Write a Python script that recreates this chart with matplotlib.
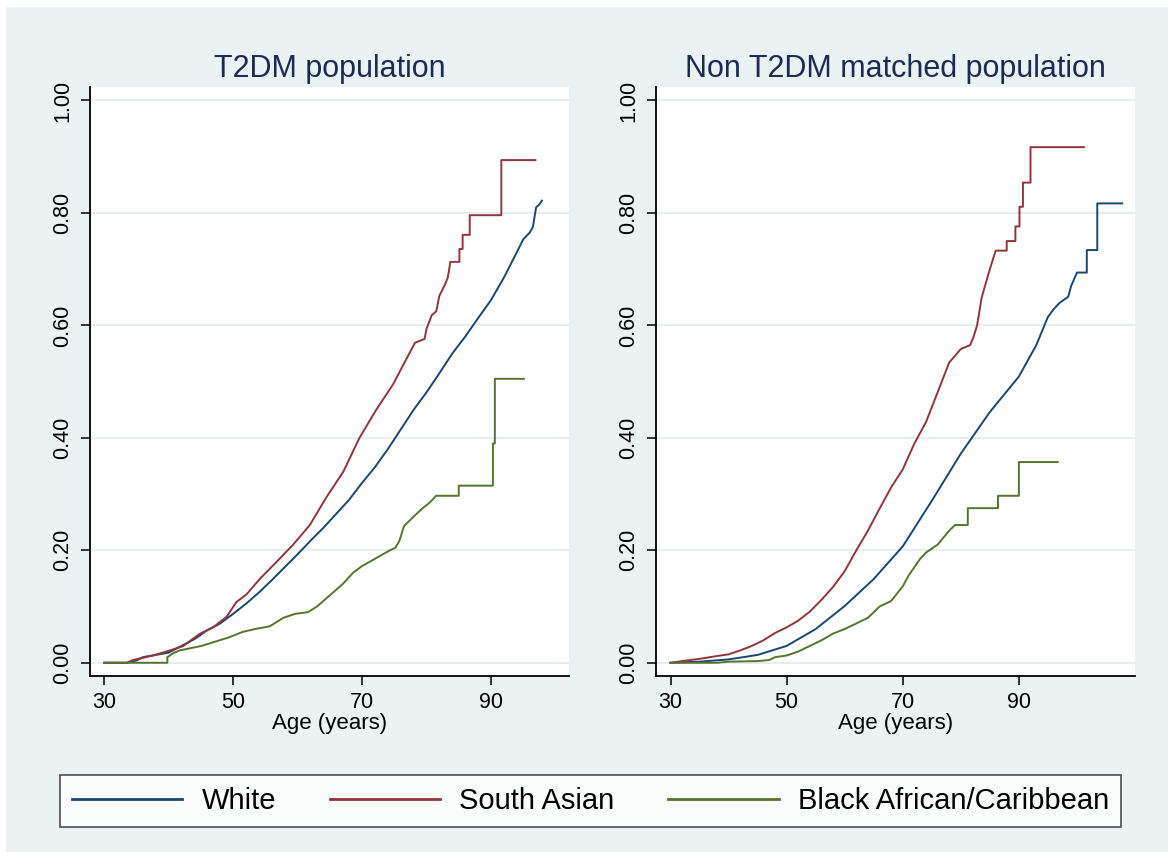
import matplotlib
matplotlib.use('Agg')
import matplotlib.pyplot as plt
from matplotlib.patches import Rectangle

plt.rcParams['font.family'] = ['Liberation Sans', 'DejaVu Sans']

# cumulative incidence by age, T2DM population
t2_white_age = [30, 33.5, 35, 36, 38, 40, 42, 44, 46, 48, 50, 52, 54, 56, 58, 60, 62, 64, 66, 68,
                70, 72, 74, 76, 78, 80, 82, 84, 86, 88, 90, 92, 94, 95, 96, 96.5, 97, 97.5, 97.9]
t2_white_val = [0, 0, 0.004, 0.010, 0.014, 0.018, 0.030, 0.042, 0.058, 0.070, 0.087, 0.105, 0.125,
                0.147, 0.170, 0.193, 0.217, 0.240, 0.265, 0.290, 0.320, 0.348, 0.380, 0.415, 0.450,
                0.481, 0.515, 0.550, 0.580, 0.613, 0.645, 0.685, 0.730, 0.753, 0.765, 0.775, 0.810,
                0.815, 0.822]

t2_sa_age = [30, 33.5, 34.5, 37.6, 40.2, 42.3, 43.8, 44.9, 46.9, 49.0, 50.5, 52.1, 54.2, 56.7, 59.3,
             61.9, 64.5, 67.1, 69.6, 72.2, 74.8, 76.4, 78.2, 79.7, 80.0, 80.8, 81.5, 82.0, 82.8, 83.3,
             83.7, 85.1, 85.1, 85.6, 85.6, 86.7, 86.7, 91.6, 91.6, 96.9]
t2_sa_val = [0, 0, 0.005, 0.013, 0.022, 0.030, 0.043, 0.052, 0.063, 0.082, 0.108, 0.122, 0.150,
             0.179, 0.210, 0.245, 0.295, 0.340, 0.400, 0.450, 0.495, 0.530, 0.569, 0.576, 0.594,
             0.618, 0.625, 0.653, 0.671, 0.685, 0.713, 0.713, 0.736, 0.736, 0.761, 0.761, 0.796,
             0.796, 0.894, 0.894]

t2_bac_age = [30, 39.8, 39.8, 40.7, 41.7, 43, 45.1, 46.5, 49.3, 51.5, 53.4, 55.7, 57.8, 59.6, 61.6,
              63, 65, 67, 68.6, 70, 72, 74, 75.2, 75.8, 76.5, 78, 79.3, 80.5, 81.5, 85, 85, 90.3,
              90.3, 90.6, 90.6, 95.1]
t2_bac_val = [0, 0, 0.010, 0.017, 0.022, 0.025, 0.030, 0.035, 0.045, 0.055, 0.060, 0.065, 0.080,
              0.087, 0.090, 0.100, 0.120, 0.140, 0.160, 0.172, 0.185, 0.198, 0.205, 0.217, 0.243,
              0.260, 0.274, 0.285, 0.297, 0.297, 0.315, 0.315, 0.390, 0.390, 0.505, 0.505]

# cumulative incidence by age, matched non-T2DM population
nt_white_age = [30, 35, 40, 45, 50, 55, 60, 65, 70, 75, 80, 85, 90, 93, 95, 96, 97, 98.5, 99, 100,
                101.7, 101.7, 103.5, 103.5, 107.8]
nt_white_val = [0, 0.002, 0.006, 0.014, 0.030, 0.060, 0.101, 0.149, 0.207, 0.288, 0.372, 0.446,
                0.509, 0.565, 0.615, 0.629, 0.640, 0.651, 0.670, 0.694, 0.694, 0.734, 0.734, 0.817,
                0.817]

nt_sa_age = [30, 32, 35, 38, 40, 42, 44, 46, 48, 50, 52, 54, 56, 58, 60, 62, 64, 66, 68, 70, 72, 74,
             76, 78, 80, 81.6, 82.2, 82.8, 83.6, 85, 86, 87.9, 87.9, 89.4, 89.4, 90.1, 90.1, 90.7,
             90.7, 92, 92, 101.2]
nt_sa_val = [0, 0.003, 0.007, 0.012, 0.015, 0.022, 0.030, 0.040, 0.053, 0.063, 0.075, 0.091, 0.112,
             0.135, 0.163, 0.200, 0.235, 0.274, 0.312, 0.344, 0.390, 0.428, 0.481, 0.534, 0.558,
             0.565, 0.580, 0.600, 0.650, 0.700, 0.733, 0.733, 0.750, 0.750, 0.776, 0.776, 0.811,
             0.811, 0.854, 0.854, 0.917, 0.917]

nt_bac_age = [30, 38, 40, 45, 47, 48, 50, 52, 54, 56, 58, 60, 62, 64, 66, 68, 70, 71, 72, 73, 74, 76,
              78, 79, 81.2, 81.2, 86.4, 86.4, 90, 90, 96.7]
nt_bac_val = [0, 0, 0.002, 0.003, 0.005, 0.010, 0.013, 0.020, 0.030, 0.040, 0.052, 0.060, 0.070,
              0.080, 0.100, 0.110, 0.136, 0.155, 0.170, 0.185, 0.196, 0.210, 0.235, 0.245, 0.245,
              0.275, 0.275, 0.297, 0.297, 0.357, 0.357]

groups = ['White', 'South Asian', 'Black African/Caribbean']
colors = ['#1A476F', '#90353B', '#55752F']
titles = ['T2DM population', 'Non T2DM matched population']
yticks = [0, 0.2, 0.4, 0.6, 0.8, 1.0]
xticks = [30, 50, 70, 90]

panels = [
    [(t2_white_age, t2_white_val), (t2_sa_age, t2_sa_val), (t2_bac_age, t2_bac_val)],
    [(nt_white_age, nt_white_val), (nt_sa_age, nt_sa_val), (nt_bac_age, nt_bac_val)],
]
xlims = [(27.8, 102.1), (27.5, 110.0)]

W, H = 1168, 852
fig = plt.figure(figsize=(W / 100, H / 100), dpi=100, facecolor='white')
bg = '#EAF2F3'
fig.patches.append(Rectangle((6 / W, 0), 1 - 6 / W, 1 - 7 / H, transform=fig.transFigure,
                             facecolor=bg, edgecolor='none', zorder=-10))

lefts = [90, 656]
for k in range(2):
    ax = fig.add_axes([lefts[k] / W, 1 - 676 / H, 479 / W, (676 - 87) / H])
    ax.set_facecolor('white')
    for (age, val), c, g in zip(panels[k], colors, groups):
        ax.plot(age, val, color=c, lw=1.4, label=g)
    ax.set_xlim(*xlims[k])
    ax.set_ylim(-0.0235, 1.024)
    ax.set_xticks(xticks)
    ax.set_yticks(yticks)
    ax.set_yticklabels(['%.2f' % v for v in yticks])
    ax.grid(axis='y', color='#E6EEF0', lw=1.5)
    ax.set_axisbelow(True)
    for s in ['top', 'right']:
        ax.spines[s].set_visible(False)
    for s in ['left', 'bottom']:
        ax.spines[s].set_linewidth(1.3)
        ax.spines[s].set_color('black')
    ax.tick_params(direction='out', length=6.5, width=1.1, labelsize=15.5)
    ax.tick_params(axis='x', pad=5)
    ax.tick_params(axis='y', pad=5.5)
    plt.setp(ax.get_yticklabels(), rotation=90, va='center')
    ax.set_xlabel('Age (years)', fontsize=16, labelpad=0)
    ax.set_title(titles[k], fontsize=22, color='#1C2B52', pad=7)

handles, labels = ax.get_legend_handles_labels()
leg = fig.legend(handles, labels, loc='center', mode='expand',
                 bbox_to_anchor=(60 / W, 1 - 829 / H, 1061 / W, 56 / H),
                 ncol=3, fontsize=21, frameon=True, fancybox=False, handlelength=3.8,
                 handletextpad=0.65, columnspacing=1.5, borderpad=0.4, borderaxespad=0)
leg.get_frame().set_edgecolor('#222222')
leg.get_frame().set_linewidth(1.2)
for line in leg.get_lines():
    line.set_linewidth(2.0)

plt.savefig('out.png', dpi=100, facecolor=fig.get_facecolor())
